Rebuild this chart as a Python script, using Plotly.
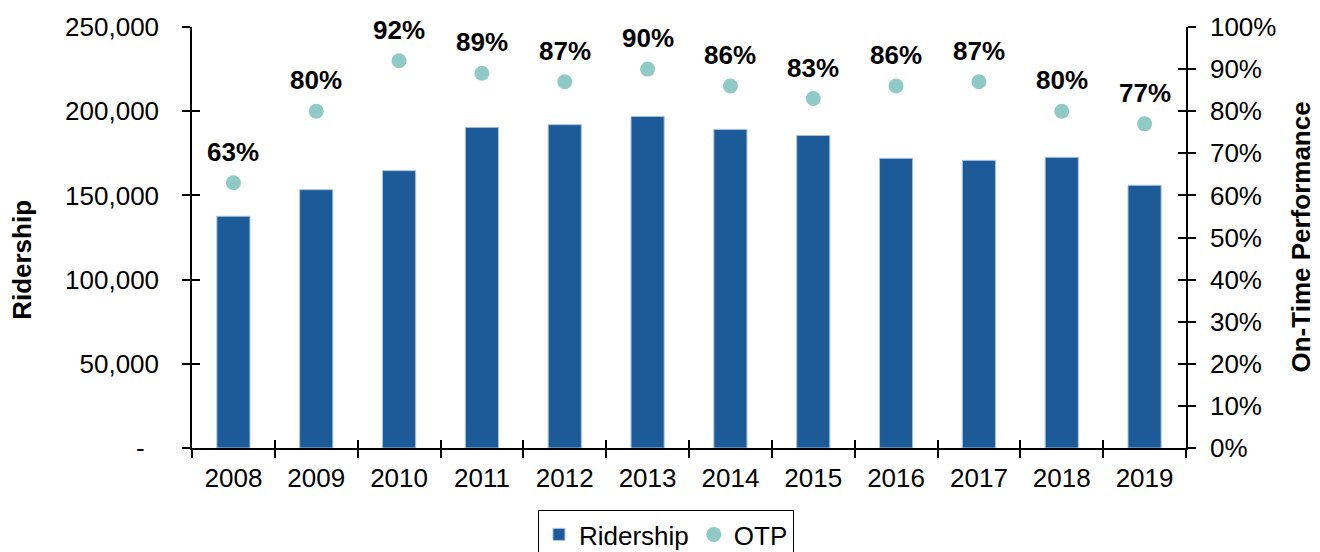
import plotly.graph_objects as go

years = ["2008", "2009", "2010", "2011", "2012", "2013", "2014", "2015", "2016", "2017", "2018", "2019"]
ridership = [137600, 153400, 164700, 190400, 192000, 196900, 189200, 185600, 172000, 170800, 172600, 156000]
otp = [0.63, 0.80, 0.92, 0.89, 0.87, 0.90, 0.86, 0.83, 0.86, 0.87, 0.80, 0.77]

left_tickvals = [0, 50000, 100000, 150000, 200000, 250000]
left_ticktext = ["-\u00a0\u00a0", "50,000", "100,000", "150,000", "200,000", "250,000"]
right_tickvals = [i / 10 for i in range(11)]
right_ticktext = [f"{i * 10}%" for i in range(11)]

BAR = "#1C5B98"
DOT = "#8FCAC6"
FONT = "Arial, Liberation Sans, sans-serif"
FS = 26

fig = go.Figure()
fig.add_trace(go.Bar(
    x=years, y=ridership, name="Ridership",
    marker=dict(color=BAR, line=dict(color="#A9C2DE", width=1)),
    width=0.4, xaxis="x", yaxis="y",
))
fig.add_trace(go.Scatter(
    x=years, y=otp, name="OTP", mode="markers",
    marker=dict(color=DOT, size=15), xaxis="x", yaxis="y2",
))
# invisible helpers so the crossing-tick overlay axes get drawn
fig.add_trace(go.Scatter(x=years, y=ridership, mode="markers", marker=dict(opacity=0),
                         showlegend=False, hoverinfo="skip", xaxis="x2", yaxis="y3"))
fig.add_trace(go.Scatter(x=years, y=otp, mode="markers", marker=dict(opacity=0),
                         showlegend=False, hoverinfo="skip", xaxis="x2", yaxis="y4"))

for i, v in enumerate(otp):
    fig.add_annotation(x=i, y=v, xref="x", yref="y2", text=f"<b>{round(v * 100)}%</b>",
                       showarrow=False, yshift=31, font=dict(family=FONT, size=FS, color="black"))

fig.add_annotation(text="<b>Ridership</b>", xref="paper", yref="paper", x=-0.171, y=0.447,
                   xanchor="center", yanchor="middle",
                   textangle=-90, showarrow=False, font=dict(family=FONT, size=FS, color="black"))
fig.add_annotation(text="<b>On-Time Performance</b>", xref="paper", yref="paper", x=1.1147, y=0.5,
                   xanchor="center", yanchor="middle",
                   textangle=-90, showarrow=False, font=dict(family=FONT, size=FS, color="black"))

axis_common = dict(showgrid=False, zeroline=False, linecolor="black", linewidth=1.5,
                   tickcolor="black", tickwidth=1.5, ticklen=8, automargin=False)

fig.update_layout(
    width=1312, height=544,
    margin=dict(l=184, r=134, t=19, b=104),
    paper_bgcolor="white", plot_bgcolor="white",
    font=dict(family=FONT, size=FS, color="black"),
    showlegend=True,
    legend=dict(orientation="h", xref="container", yref="container",
                x=0.5015, xanchor="center", y=1 - 502 / 544, yanchor="top",
                bordercolor="black", borderwidth=1, font=dict(size=FS),
                itemwidth=30, tracegroupgap=0),
    xaxis=dict(type="category", categoryarray=years, range=[-0.5, 11.5], showline=True,
               ticks="outside", tickson="boundaries", ticklabelstandoff=6, **axis_common),
    xaxis2=dict(type="category", categoryarray=years, range=[-0.5, 11.5], overlaying="x",
                anchor="y3", side="bottom", showline=False, ticks="inside", tickson="boundaries",
                showticklabels=False, **axis_common),
    yaxis=dict(range=[0, 250000], tickvals=left_tickvals, ticktext=left_ticktext, showline=True,
               ticks="outside", ticklabelstandoff=18, **axis_common),
    yaxis2=dict(range=[0, 1], tickvals=right_tickvals, ticktext=right_ticktext, overlaying="y",
                side="right", anchor="x", showline=True, ticks="outside", ticklabelstandoff=9,
                **axis_common),
    yaxis3=dict(range=[0, 250000], overlaying="y", side="left", anchor="x2", showline=False,
                ticks="inside", tickvals=left_tickvals, showticklabels=False, **axis_common),
    yaxis4=dict(range=[0, 1], overlaying="y", side="right", anchor="x2", showline=False,
                ticks="inside", tickvals=right_tickvals, showticklabels=False, **axis_common),
)

fig.write_html("out.html")
